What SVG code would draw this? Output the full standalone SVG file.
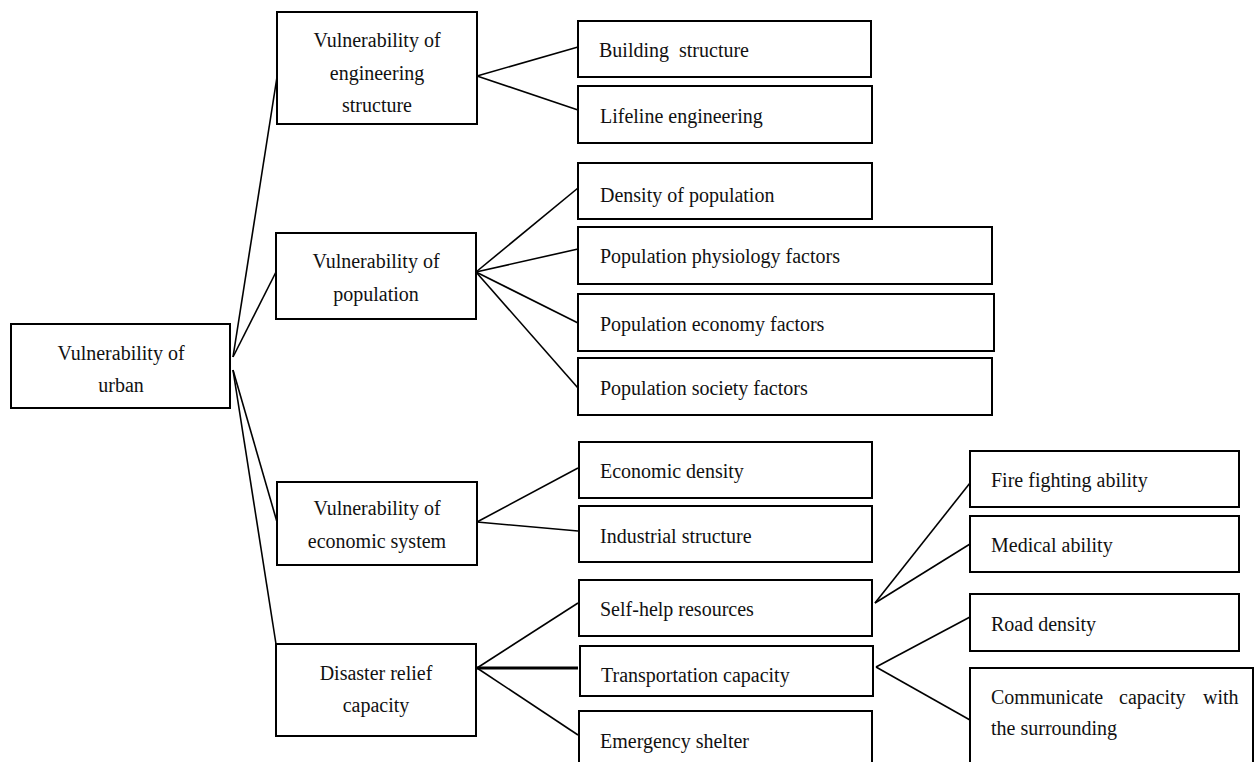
<svg xmlns="http://www.w3.org/2000/svg" width="1255" height="762" viewBox="0 0 1255 762">
<style>
.box{fill:#fff;stroke:#000;stroke-width:2}
.t{font-family:"Liberation Serif","Times New Roman",serif;font-size:20px;fill:#111}
.c{text-anchor:middle}
.ln{stroke:#000;stroke-width:1.6;fill:none}
</style>
<rect width="1255" height="762" fill="#fff"/>
<g id="connectors">
<line class="ln" x1="233" y1="357" x2="277" y2="77"/>
<line class="ln" x1="233" y1="357" x2="276" y2="272"/>
<line class="ln" x1="233" y1="370" x2="277" y2="522"/>
<line class="ln" x1="233" y1="370" x2="276" y2="644"/>
<line class="ln" x1="477" y1="76" x2="578" y2="47"/>
<line class="ln" x1="477" y1="76" x2="578" y2="110"/>
<line class="ln" x1="476" y1="272" x2="578" y2="188"/>
<line class="ln" x1="476" y1="272" x2="578" y2="249"/>
<line class="ln" x1="476" y1="272" x2="578" y2="323"/>
<line class="ln" x1="476" y1="272" x2="578" y2="388"/>
<line class="ln" x1="477" y1="522" x2="578" y2="468"/>
<line class="ln" x1="477" y1="522" x2="578" y2="531"/>
<line class="ln" x1="477" y1="668" x2="578" y2="603"/>
<line class="ln" x1="477" y1="668" x2="578" y2="668" style="stroke-width:3"/>
<line class="ln" x1="477" y1="668" x2="578" y2="735"/>
<line class="ln" x1="875" y1="603" x2="970" y2="483"/>
<line class="ln" x1="875" y1="603" x2="970" y2="544"/>
<line class="ln" x1="876" y1="667" x2="970" y2="617"/>
<line class="ln" x1="876" y1="667" x2="970" y2="720"/>
</g>
<g id="root">
<rect class="box" x="11" y="324" width="219" height="84"/>
<text class="t c" x="121" y="360">Vulnerability of</text>
<text class="t c" x="121" y="392">urban</text>
</g>
<g id="engineering">
<rect class="box" x="277" y="12" width="200" height="112"/>
<text class="t c" x="377" y="47">Vulnerability of</text>
<text class="t c" x="377" y="80">engineering</text>
<text class="t c" x="377" y="112">structure</text>
</g>
<g id="population">
<rect class="box" x="276" y="233" width="200" height="86"/>
<text class="t c" x="376" y="268">Vulnerability of</text>
<text class="t c" x="376" y="301">population</text>
</g>
<g id="economic">
<rect class="box" x="277" y="482" width="200" height="83"/>
<text class="t c" x="377" y="515">Vulnerability of</text>
<text class="t c" x="377" y="548">economic system</text>
</g>
<g id="disaster">
<rect class="box" x="276" y="644" width="200" height="92"/>
<text class="t c" x="376" y="680">Disaster relief</text>
<text class="t c" x="376" y="712">capacity</text>
</g>
<g id="building">
<rect class="box" x="578" y="21" width="293" height="56"/>
<text class="t" x="599" y="57" xml:space="preserve">Building  structure</text>
</g>
<g id="lifeline">
<rect class="box" x="578" y="86" width="294" height="57"/>
<text class="t" x="600" y="123">Lifeline engineering</text>
</g>
<g id="density">
<rect class="box" x="578" y="163" width="294" height="56"/>
<text class="t" x="600" y="202">Density of population</text>
</g>
<g id="physiology">
<rect class="box" x="578" y="227" width="414" height="57"/>
<text class="t" x="600" y="263">Population physiology factors</text>
</g>
<g id="economy">
<rect class="box" x="578" y="294" width="416" height="57"/>
<text class="t" x="600" y="331">Population economy factors</text>
</g>
<g id="society">
<rect class="box" x="578" y="358" width="414" height="57"/>
<text class="t" x="600" y="395">Population society factors</text>
</g>
<g id="econdensity">
<rect class="box" x="579" y="442" width="293" height="56"/>
<text class="t" x="600" y="478">Economic density</text>
</g>
<g id="industrial">
<rect class="box" x="579" y="506" width="293" height="56"/>
<text class="t" x="600" y="543">Industrial structure</text>
</g>
<g id="selfhelp">
<rect class="box" x="579" y="580" width="293" height="56"/>
<text class="t" x="600" y="616">Self-help resources</text>
</g>
<g id="transportation">
<rect class="box" x="580" y="646" width="293" height="50"/>
<text class="t" x="601" y="682">Transportation capacity</text>
</g>
<g id="shelter">
<rect class="box" x="579" y="711" width="293" height="60"/>
<text class="t" x="600" y="748">Emergency shelter</text>
</g>
<g id="firefighting">
<rect class="box" x="970" y="451" width="269" height="56"/>
<text class="t" x="991" y="487">Fire fighting ability</text>
</g>
<g id="medical">
<rect class="box" x="970" y="516" width="269" height="56"/>
<text class="t" x="991" y="552">Medical ability</text>
</g>
<g id="road">
<rect class="box" x="970" y="594" width="269" height="57"/>
<text class="t" x="991" y="631">Road density</text>
</g>
<g id="communicate">
<rect class="box" x="970" y="668" width="283" height="105"/>
<text class="t" y="704"><tspan x="991">Communicate</tspan><tspan x="1119">capacity</tspan><tspan x="1203">with</tspan></text>
<text class="t" x="991" y="735">the surrounding</text>
</g>
</svg>
